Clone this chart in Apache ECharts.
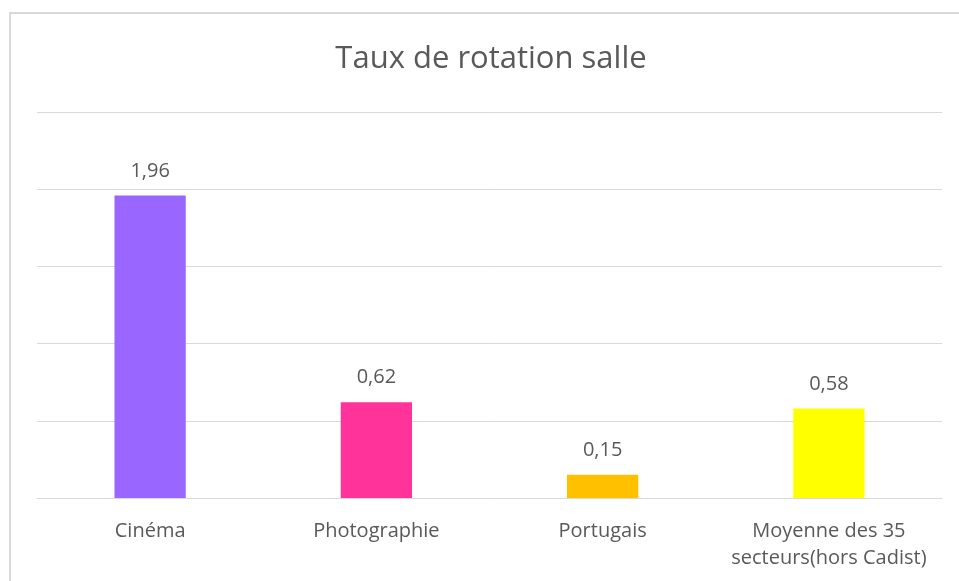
<html>
<head>
  <meta charset="utf-8" />
  <title>Taux de rotation salle</title>
  <script src="https://cdn.jsdelivr.net/npm/echarts@6/dist/echarts.min.js"></script>
  <style>
    html, body { margin: 0; padding: 0; background: #fff; }
    #frame {
      position: absolute;
      left: 9px;
      top: 12px;
      width: 1000px;
      height: 640px;
      border: 2px solid #d9d9d9;
    }
    #container { position: absolute; left: 0; top: 0; width: 959px; height: 581px; }
  </style>
</head>
<body>
  <div id="frame"></div>
  <div id="container"></div>
  <script>
    // secteurs et taux de rotation
    var categories = ['Cinéma', 'Photographie', 'Portugais', 'Moyenne des 35\nsecteurs(hors Cadist)'];
    var values = [1.96, 0.62, 0.15, 0.58];
    var barColors = ['#9966FF', '#FF3399', '#FFC000', '#FFFF00'];

    var myChart = echarts.init(document.getElementById('container'));
    var textFont = 'Open Sans';

    var option = {
      title: {
        text: 'Taux de rotation salle',
        left: 486,
        textAlign: 'center',
        top: 39,
        textStyle: { fontFamily: textFont, fontSize: 31, fontWeight: 'normal', color: '#595959' }
      },
      grid: { left: 37, right: 17, top: 112, bottom: 83 },
      xAxis: {
        type: 'category',
        data: categories,
        axisLine: { lineStyle: { color: '#d9d9d9', width: 1 } },
        axisTick: { show: false },
        axisLabel: {
          interval: 0,
          margin: 20,
          fontFamily: textFont,
          fontSize: 20,
          lineHeight: 27,
          color: '#595959'
        }
      },
      yAxis: {
        type: 'value',
        min: 0,
        max: 2.5,
        interval: 0.5,
        axisLabel: { show: false },
        axisLine: { show: false },
        axisTick: { show: false },
        splitLine: { lineStyle: { color: '#d9d9d9', width: 1 } }
      },
      series: [{
        type: 'bar',
        barWidth: '31.5%',
        data: values.map(function (v, i) {
          return { value: v, itemStyle: { color: barColors[i] } };
        }),
        label: {
          show: true,
          position: 'top',
          distance: 14,
          fontFamily: textFont,
          fontSize: 20,
          lineHeight: 21,
          color: '#595959',
          formatter: function (p) { return p.value.toFixed(2).replace('.', ','); }
        }
      }]
    };
    myChart.setOption(option);
  </script>
</body>
</html>
